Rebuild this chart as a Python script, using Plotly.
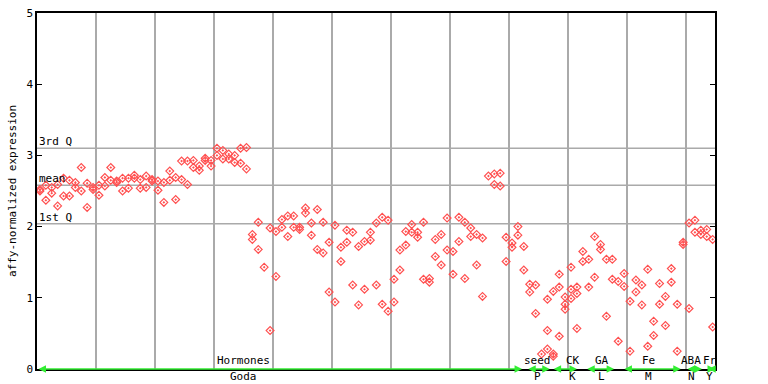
import plotly.graph_objects as go

# expression values per sample position (replicates share a position)
expression = [
    [2.52, 2.50], [2.58, 2.37], [2.55, 2.47], [2.59, 2.29], [2.68, 2.43],
    [2.65, 2.43], [2.62, 2.55], [2.83, 2.50], [2.61, 2.27], [2.55, 2.52],
    [2.58, 2.44], [2.69, 2.57], [2.83, 2.65], [2.64, 2.62], [2.68, 2.50],
    [2.68, 2.54], [2.72, 2.68], [2.66, 2.54], [2.71, 2.55], [2.66, 2.64],
    [2.64, 2.51], [2.62, 2.34], [2.78, 2.65], [2.69, 2.38], [2.92, 2.66],
    [2.92, 2.59], [2.93, 2.83], [2.85, 2.79], [2.96, 2.93], [2.93, 2.85],
    [3.10, 3.00], [3.07, 2.95], [3.02, 2.95], [3.00, 2.90], [3.10, 2.89],
    [3.11, 2.81], [1.89, 1.82], [2.06, 1.68], [1.43], [1.98, 0.54],
    [1.93, 1.30], [2.10, 1.99], [2.15, 1.86], [2.15, 1.99], [1.99, 1.96],
    [2.26, 2.19], [2.05, 1.88], [2.24, 1.68], [2.06, 1.63], [1.78, 1.08],
    [2.02, 0.94], [1.71, 1.51], [1.95, 1.78], [1.92, 1.18], [1.72, 0.90],
    [1.79, 1.12], [1.92, 1.81], [2.05, 1.18], [2.13, 0.91], [2.09, 0.81],
    [1.26, 0.94], [1.67, 1.39], [1.93, 1.74], [2.03, 1.92], [1.92, 1.85],
    [2.06, 1.26], [1.27, 1.22], [1.82, 1.58], [1.89, 1.46], [2.12, 1.67],
    [1.65, 1.33], [2.13, 1.79], [2.06, 1.27], [1.98, 1.86], [1.89, 1.46],
    [1.84, 1.02], [2.71], [2.74, 2.59], [2.75, 2.57], [1.85, 1.51],
    [1.77, 1.71], [2.00, 1.88], [1.72, 1.39], [1.19, 1.08], [1.18, 0.78],
    [0.21], [0.98, 0.54, 0.28], [1.09, 0.21, 0.18], [1.33, 1.15, 0.46], [1.01, 0.91, 0.84],
    [1.43, 1.12, 0.99], [1.15, 1.06, 0.57], [1.65, 1.51], [1.54, 1.15], [1.86, 1.29],
    [1.75, 1.68], [1.54, 0.74], [1.54, 1.26], [1.23, 0.39], [1.34, 1.16],
    [0.95, 0.25], [1.25, 1.08], [1.18, 0.90], [1.40, 0.32], [0.67, 0.47],
    [1.20, 0.91], [1.02, 0.61], [1.41, 1.22], [0.91, 0.25], [1.78, 1.75],
    [2.05, 0.85], [2.09, 1.92], [1.95, 1.89], [1.96, 1.86], [1.82, 0.59],
]

q_labels = ["3rd Q", "mean", "1st Q"]
q_values = [3.10, 2.58, 2.04]

group_top = ["Hormones", "seed", "CK", "GA", "Fe", "ABA", "Fr"]
group_bottom = ["Goda", "P", "K", "L", "M", "N", "Y"]
group_start = [-0.5, 82.5, 86.8, 92.5, 98.8, 109.5, 113.0]
group_end = [81.7, 86.4, 91.0, 97.3, 108.6, 112.2, 114.4]
group_label_pos = [34.5, 84.3, 90.3, 95.2, 103.2, 110.4, 113.5]

y_ticks = [0, 1, 2, 3, 4, 5]

xs, ys = [], []
for i, vals in enumerate(expression):
    for v in vals:
        xs.append(i)
        ys.append(v)

FONT = "DejaVu Sans Mono"
fig = go.Figure()
fig.add_trace(go.Scatter(
    x=xs, y=ys, mode="markers",
    marker=dict(symbol="diamond-open-dot", size=6, color="#ff5050",
                line=dict(width=1.2, color="#ff5050")),
    hoverinfo="y", showlegend=False, cliponaxis=False,
))

shapes = []
annotations = []
for lab, val in zip(q_labels, q_values):
    shapes.append(dict(type="line", xref="paper", yref="y", x0=0, x1=1, y0=val, y1=val,
                       line=dict(color="#aaaaaa", width=1.5), layer="below"))
    annotations.append(dict(text=lab, xref="paper", yref="y", x=0, y=val,
                            xanchor="left", yanchor="bottom", showarrow=False,
                            font=dict(family=FONT, size=11, color="black"), yshift=-2))

for top, bot, s, e, p in zip(group_top, group_bottom, group_start, group_end, group_label_pos):
    annotations.append(dict(x=e, y=0, ax=s, ay=0, xref="x", yref="y", axref="x", ayref="y",
                            text="", showarrow=True, arrowside="end+start", arrowhead=2,
                            arrowsize=1.0, arrowwidth=1.5, arrowcolor="#33ee33"))
    annotations.append(dict(text=top, x=p, y=0, xref="x", yref="y", xanchor="center",
                            yanchor="bottom", showarrow=False, yshift=0,
                            font=dict(family=FONT, size=11, color="black")))
    annotations.append(dict(text=bot, x=p, y=0, xref="x", yref="y", xanchor="center",
                            yanchor="top", showarrow=False, yshift=1,
                            font=dict(family=FONT, size=11, color="black")))

fig.update_layout(
    width=768, height=384,
    margin=dict(l=37, r=53, t=13, b=15, autoexpand=False),
    plot_bgcolor="white", paper_bgcolor="white",
    shapes=shapes, annotations=annotations,
    font=dict(family=FONT, size=11, color="black"),
    xaxis=dict(range=[-0.5, 114.4], tickvals=[9.5 + 10 * k for k in range(11)],
               showticklabels=False, ticks="", showgrid=True, gridcolor="#aaaaaa",
               gridwidth=1.5, showline=True, linecolor="black", linewidth=1.5,
               mirror=True, zeroline=False, automargin=False),
    yaxis=dict(range=[0, 5], tickvals=y_ticks, ticks="inside", ticklen=5,
               tickcolor="black", showgrid=False, showline=True, linecolor="black",
               linewidth=1.5, mirror="ticks", zeroline=False, automargin=False,
               title=dict(text="affy-normalized expression", standoff=8,
                          font=dict(family=FONT, size=11)),
               tickfont=dict(family=FONT, size=11)),
)

fig.write_html("out.html", config={"displayModeBar": False})

# remove the browser's default page margin so the figure sits at the window origin
with open("out.html", encoding="utf-8") as f:
    html = f.read()
html = html.replace("<head>", "<head><style>html,body{margin:0;padding:0;overflow:hidden;}</style>", 1)
with open("out.html", "w", encoding="utf-8") as f:
    f.write(html)
